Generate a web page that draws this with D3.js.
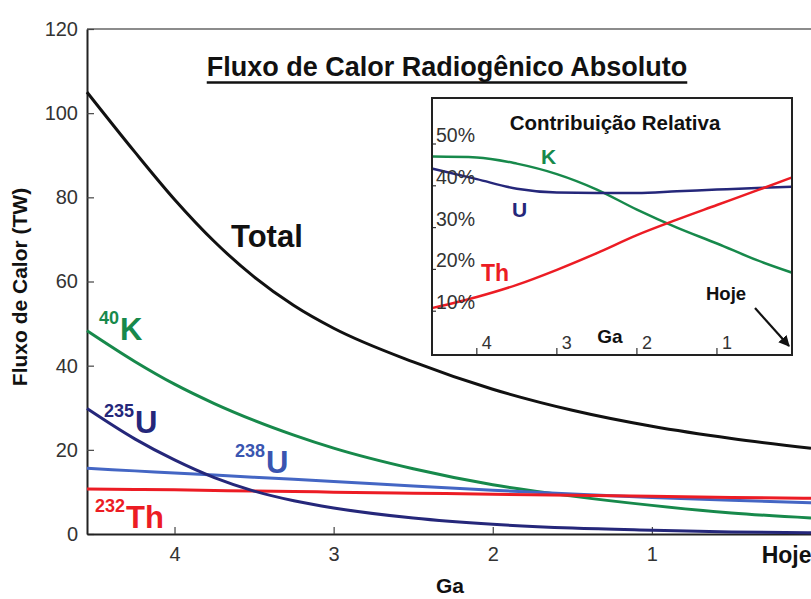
<!DOCTYPE html>
<html>
<head>
<meta charset="utf-8">
<script src="https://cdn.jsdelivr.net/npm/d3@7"></script>
<style>
  body { margin: 0; background: #fff; }
  svg { font-family: "Liberation Sans", Arial, sans-serif; }
</style>
</head>
<body>
<div id="chart"></div>
<script>
// main chart: absolute radiogenic heat flow (TW) vs age (Ga)
const gaPts = [4.55, 4.25, 4.0, 3.75, 3.5, 3.25, 3.0, 2.5, 2.0, 1.5, 1.0, 0.5, 0];
const total = [105, 90.8, 79.5, 69.5, 61.1, 54.3, 48.9, 40.9, 34.4, 29.4, 25.6, 22.7, 20.4];
const k40 = [48.3, 41.0, 35.6, 31, 27.0, 23.5, 20.4, 15.5, 11.7, 9.0, 6.8, 5.0, 3.8];
const u235 = [29.8, 22.6, 17.6, 13.4, 10.2, 7.9, 6.2, 3.8, 2.3, 1.4, 0.9, 0.5, 0.3];
const u238 = [15.6, 15.0, 14.5, 14.0, 13.5, 13.0, 12.5, 11.4, 10.4, 9.5, 8.7, 8.0, 7.4];
const th232 = [10.7, 10.6, 10.5, 10.35, 10.2, 10.1, 9.95, 9.7, 9.45, 9.2, 8.95, 8.7, 8.5];
const yTicks = [0, 20, 40, 60, 80, 100, 120];
const xTicks = [4, 3, 2, 1, 0];

// inset: relative contribution (%)
const gaRel = [4.55, 4.0, 3.5, 3.0, 2.5, 2.0, 1.5, 1.0, 0.5, 0.06];
const relK = [47, 46.8, 45.3, 42.8, 39.1, 34.3, 30.0, 26.2, 22.2, 19.2];
const relU = [44.1, 41.6, 39.3, 38.4, 38.3, 38.3, 38.7, 39.1, 39.5, 39.8];
const relTh = [10.8, 13.4, 16.3, 19.9, 23.9, 28.2, 31.9, 35.4, 38.9, 42.0];
const relYTicks = [10, 20, 30, 40, 50];
const relXTicks = [4, 3, 2, 1];

const W = 811, H = 599;
const green = "#17894b", navy = "#25277a", blue = "#4466c4", red = "#ec1c24";

const svg = d3.select("#chart").append("svg")
    .attr("width", W)
    .attr("height", H);

const x = d3.scaleLinear().domain([4.55, 0]).range([87, 811]);
const y = d3.scaleLinear().domain([0, 120]).range([534, 29]);

// top frame line
svg.append("line")
    .attr("x1", 87).attr("x2", W)
    .attr("y1", 29).attr("y2", 29)
    .attr("stroke", "#666").attr("stroke-width", 1.5);

// axes
const yAxis = svg.append("g")
    .attr("transform", "translate(87,0)")
    .call(d3.axisLeft(y).tickValues(yTicks).tickSizeInner(-7).tickSizeOuter(0).tickPadding(9));
yAxis.select(".domain").attr("stroke", "#222").attr("stroke-width", 2);
yAxis.selectAll(".tick line").attr("stroke", "#444").attr("stroke-width", 1.2);
yAxis.selectAll(".tick text").attr("font-size", 20).attr("fill", "#333")
    .attr("font-family", "Liberation Sans, Arial, sans-serif");

const xAxis = svg.append("g")
    .attr("transform", "translate(0,534)")
    .call(d3.axisBottom(x).tickValues(xTicks).tickSizeInner(-7).tickSizeOuter(0).tickPadding(13)
        .tickFormat(d => d === 0 ? "Hoje" : d));
xAxis.select(".domain").attr("stroke", "#222").attr("stroke-width", 2);
xAxis.selectAll(".tick line").attr("stroke", "#444").attr("stroke-width", 1.2);
xAxis.selectAll(".tick text").attr("font-size", 20).attr("fill", "#333")
    .attr("font-family", "Liberation Sans, Arial, sans-serif");
xAxis.selectAll(".tick").filter(d => d === 0).each(function() {
  d3.select(this).select("line").remove();
  d3.select(this).select("text")
      .attr("text-anchor", "end")
      .attr("x", 0)
      .attr("font-weight", "bold")
      .attr("font-size", 23)
      .attr("fill", "#111");
});

// axis titles
svg.append("text")
    .attr("transform", "translate(27,287) rotate(-90)")
    .attr("text-anchor", "middle")
    .attr("font-size", 21)
    .attr("font-weight", "bold")
    .attr("fill", "#111")
    .text("Fluxo de Calor (TW)");

svg.append("text")
    .attr("x", 450).attr("y", 593)
    .attr("text-anchor", "middle")
    .attr("font-size", 21)
    .attr("font-weight", "bold")
    .attr("fill", "#111")
    .text("Ga");

// title
const title = svg.append("text")
    .attr("x", 447).attr("y", 76)
    .attr("text-anchor", "middle")
    .attr("font-size", 27)
    .attr("font-weight", "bold")
    .attr("fill", "#111")
    .text("Fluxo de Calor Radiogênico Absoluto");
const tw = title.node().getComputedTextLength();
svg.append("line")
    .attr("x1", 447 - tw / 2).attr("x2", 447 + tw / 2)
    .attr("y1", 82.5).attr("y2", 82.5)
    .attr("stroke", "#111").attr("stroke-width", 2.5);

// curves
const line = d3.line()
    .x(d => x(d[0]))
    .y(d => y(d[1]))
    .curve(d3.curveMonotoneX);

const series = [
  { vals: total, color: "#111" },
  { vals: k40, color: green },
  { vals: u238, color: blue },
  { vals: th232, color: red },
  { vals: u235, color: navy }
];
series.forEach(s => {
  svg.append("path")
      .datum(gaPts.map((g, i) => [g, s.vals[i]]))
      .attr("fill", "none")
      .attr("stroke", s.color)
      .attr("stroke-width", 3)
      .attr("d", line);
});

// curve labels
function isoLabel(px, py, sup, main, color) {
  const t = svg.append("text")
      .attr("x", px).attr("y", py)
      .attr("font-weight", "bold")
      .attr("fill", color);
  if (sup) {
    t.append("tspan").attr("font-size", 18).attr("dy", -16).text(sup);
    t.append("tspan").attr("font-size", 31).attr("dy", 16).attr("dx", 1).text(main);
  } else {
    t.append("tspan").attr("font-size", 31).text(main);
  }
}
isoLabel(231, 247, null, "Total", "#111");
isoLabel(99, 340, "40", "K", green);
isoLabel(104, 433, "235", "U", navy);
isoLabel(235, 473, "238", "U", "#3a55b0");
isoLabel(95, 528, "232", "Th", red);

// ---- inset ----
const ix = d3.scaleLinear().domain([4.56, 0]).range([432, 797]);
const iy = d3.scaleLinear().domain([0, 50]).range([353, 144]);
const inset = svg.append("g");

inset.append("rect")
    .attr("x", 432).attr("y", 98)
    .attr("width", 360).attr("height", 257)
    .attr("fill", "#fff");

svg.append("clipPath").attr("id", "insetClip")
  .append("rect")
    .attr("x", 432).attr("y", 98)
    .attr("width", 360).attr("height", 257);

const iline = d3.line()
    .x(d => ix(d[0]))
    .y(d => iy(d[1]))
    .curve(d3.curveMonotoneX);

[[relK, green], [relU, navy], [relTh, red]].forEach(([vals, color]) => {
  inset.append("path")
      .datum(gaRel.map((g, i) => [g, vals[i]]))
      .attr("clip-path", "url(#insetClip)")
      .attr("fill", "none")
      .attr("stroke", color)
      .attr("stroke-width", 2.5)
      .attr("d", iline);
});

// inset ticks and labels
relYTicks.forEach(v => {
  inset.append("line")
      .attr("x1", 432).attr("x2", 436)
      .attr("y1", iy(v)).attr("y2", iy(v))
      .attr("stroke", "#333").attr("stroke-width", 1.2);
  inset.append("text")
      .attr("x", 436).attr("y", iy(v) - 2)
      .attr("font-size", 19.5)
      .attr("fill", "#333")
      .text(v + "%");
});
relXTicks.forEach(v => {
  inset.append("line")
      .attr("x1", ix(v)).attr("x2", ix(v))
      .attr("y1", 355).attr("y2", 348)
      .attr("stroke", "#333").attr("stroke-width", 1.2);
  inset.append("text")
      .attr("x", ix(v) + 5).attr("y", 349)
      .attr("font-size", 18)
      .attr("fill", "#333")
      .text(v);
});

inset.append("rect")
    .attr("x", 432).attr("y", 98)
    .attr("width", 360).attr("height", 257)
    .attr("fill", "none")
    .attr("stroke", "#222")
    .attr("stroke-width", 2);

inset.append("text")
    .attr("x", 615).attr("y", 130)
    .attr("text-anchor", "middle")
    .attr("font-size", 20.5)
    .attr("font-weight", "bold")
    .attr("fill", "#111")
    .text("Contribuição Relativa");

inset.append("text")
    .attr("x", 610).attr("y", 343)
    .attr("text-anchor", "middle")
    .attr("font-size", 19)
    .attr("font-weight", "bold")
    .attr("fill", "#111")
    .text("Ga");

inset.append("text").attr("x", 541).attr("y", 164)
    .attr("font-size", 21).attr("font-weight", "bold").attr("fill", green).text("K");
inset.append("text").attr("x", 512).attr("y", 217)
    .attr("font-size", 21).attr("font-weight", "bold").attr("fill", navy).text("U");
inset.append("text").attr("x", 481).attr("y", 281)
    .attr("font-size", 23).attr("font-weight", "bold").attr("fill", red).text("Th");
inset.append("text").attr("x", 706).attr("y", 300)
    .attr("font-size", 18.5).attr("font-weight", "bold").attr("fill", "#111").text("Hoje");

// arrow to present
svg.append("defs").append("marker")
    .attr("id", "arrowhead")
    .attr("viewBox", "0 0 10 10")
    .attr("refX", 9).attr("refY", 5)
    .attr("markerWidth", 5).attr("markerHeight", 5)
    .attr("orient", "auto")
  .append("path")
    .attr("d", "M0,0 L10,5 L0,10 z")
    .attr("fill", "#111");
inset.append("line")
    .attr("x1", 755).attr("y1", 308)
    .attr("x2", 789).attr("y2", 346)
    .attr("stroke", "#111")
    .attr("stroke-width", 2.2)
    .attr("marker-end", "url(#arrowhead)");
</script>
</body>
</html>
